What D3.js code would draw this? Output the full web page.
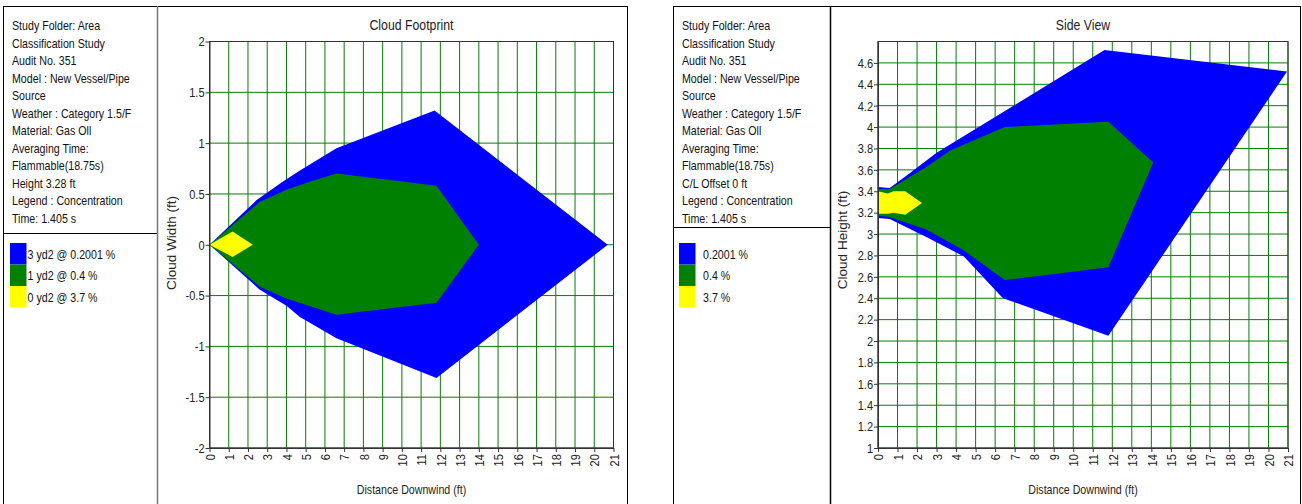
<!DOCTYPE html>
<html lang="en">
<head>
<meta charset="UTF-8">
<title>Cloud Footprint / Side View</title>
<script src="https://cdn.jsdelivr.net/npm/d3@7"></script>
<style>
  body { margin: 0; background: #fff; }
  svg { display: block; font-family: "Liberation Sans", Arial, sans-serif; }
</style>
</head>
<body>
<svg width="1302" height="504"></svg>
<script>
// ---- data ----
const infoFootprint = [
  'Study Folder: Area', 'Classification Study', 'Audit No. 351', 'Model : New Vessel/Pipe',
  'Source', 'Weather : Category 1.5/F', 'Material: Gas Oll', 'Averaging Time:',
  'Flammable(18.75s)', 'Height 3.28 ft', 'Legend : Concentration', 'Time: 1.405 s'
];
const infoSide = [
  'Study Folder: Area', 'Classification Study', 'Audit No. 351', 'Model : New Vessel/Pipe',
  'Source', 'Weather : Category 1.5/F', 'Material: Gas Oll', 'Averaging Time:',
  'Flammable(18.75s)', 'C/L Offset 0 ft', 'Legend : Concentration', 'Time: 1.405 s'
];
const legendFootprint = ['3 yd2 @ 0.2001 %', '1 yd2 @ 0.4 %', '0 yd2 @ 3.7 %'];
const legendSide = ['0.2001 %', '0.4 %', '3.7 %'];
const levelColors = ['#0000ff', '#008000', '#ffff00'];

const distanceTicks = [0, 1, 2, 3, 4, 5, 6, 7, 8, 9, 10, 11, 12, 13, 14, 15, 16, 17, 18, 19, 20, 21];
const widthTicks = [-2, -1.5, -1, -0.5, 0, 0.5, 1, 1.5, 2];
const heightTicks = [1, 1.2, 1.4, 1.6, 1.8, 2, 2.2, 2.4, 2.6, 2.8, 3, 3.2, 3.4, 3.6, 3.8, 4, 4.2, 4.4, 4.6];

// cloud footprint contours: [distance, width]
const footprintBlue = [
  [0, 0], [2.45, 0.44], [3.8, 0.62], [4.7, 0.73], [6.6, 0.95], [11.7, 1.32], [20.7, 0],
  [11.8, -1.31], [6.6, -0.92], [4.7, -0.71], [4.0, -0.60], [2.6, -0.44]
];
const footprintGreen = [
  [0, 0], [2.6, 0.42], [4.0, 0.54], [5.2, 0.62], [6.6, 0.70], [11.8, 0.58], [14.0, 0],
  [11.8, -0.57], [6.6, -0.69], [4.0, -0.53], [2.6, -0.41]
];
const footprintYellow = [[0, 0], [1.2, 0.13], [2.25, 0], [1.2, -0.12]];

// side view contours: [distance, height]
const sideBlue = [
  [0, 3.44], [0.6, 3.43], [1.64, 3.57], [3.0, 3.76], [11.6, 4.72], [20.95, 4.52],
  [11.8, 2.05], [6.4, 2.40], [4.4, 2.79], [2.5, 2.97], [0.6, 3.14], [0, 3.15]
];
const sideGreen = [
  [0, 3.42], [0.6, 3.42], [2.5, 3.63], [3.7, 3.78], [6.5, 4.0], [11.8, 4.05], [14.1, 3.67],
  [11.8, 2.69], [6.5, 2.57], [4.37, 2.85], [2.5, 3.04], [0.6, 3.16], [0, 3.17]
];
const sideYellow = [
  [0, 3.40], [0.5, 3.38], [0.8, 3.40], [1.4, 3.40], [2.25, 3.29],
  [1.4, 3.18], [0.8, 3.20], [0.5, 3.19], [0, 3.19]
];

// ---- drawing ----
const svg = d3.select('svg');
const narrow = 'scale(0.82,1)'; // no narrow font installed, squeeze Arial-like text

function drawPanel(p) {
  const g = svg.append('g');

  // frames
  g.append('rect')
    .attr('x', p.left + 0.5).attr('y', 6.5)
    .attr('width', p.right - p.left).attr('height', 520)
    .attr('fill', 'none').attr('stroke', '#000');
  g.append('line')
    .attr('x1', p.split + 0.5).attr('x2', p.split + 0.5).attr('y1', 6).attr('y2', 504)
    .attr('stroke', p.splitColor).attr('stroke-width', 1.5);
  g.append('line')
    .attr('x1', p.left).attr('x2', p.split).attr('y1', p.legendTop + 0.5).attr('y2', p.legendTop + 0.5)
    .attr('stroke', '#000');

  // info text
  g.append('g')
    .attr('font-size', 13).attr('fill', '#111')
    .selectAll('text').data(p.info).join('text')
    .attr('transform', (d, i) => `translate(${p.left + 9},${30 + i * 17.5}) ${narrow}`)
    .text(d => d);

  // legend
  const lg = g.append('g').selectAll('g').data(p.legend).join('g')
    .attr('transform', (d, i) => `translate(${p.left + p.swatchX}, ${p.legendTop + p.legendPad + i * 21.5})`);
  lg.append('rect')
    .attr('width', 16.5).attr('height', 21.5)
    .attr('fill', (d, i) => levelColors[i]);
  lg.append('text')
    .attr('transform', `translate(${p.textX},15.5) ${narrow}`)
    .attr('font-size', 13).attr('fill', '#111')
    .text(d => d);

  // scales
  const x = d3.scaleLinear().domain([0, 21]).range([p.x0, p.x1]);
  const y = d3.scaleLinear().domain(p.yDomain).range([448, 41.5]);

  // grid
  const grid = g.append('g').attr('stroke', '#008000').attr('stroke-width', 1);
  grid.selectAll('.v').data(distanceTicks).join('line')
    .attr('x1', d => x(d)).attr('x2', d => x(d)).attr('y1', y.range()[0]).attr('y2', y.range()[1]);
  grid.selectAll('.h').data(p.yTicks).join('line')
    .attr('x1', x(0)).attr('x2', x(21)).attr('y1', d => y(d)).attr('y2', d => y(d));

  // contours
  const line = d3.line().x(d => x(d[0])).y(d => y(d[1]));
  g.append('g').selectAll('path').data(p.shapes).join('path')
    .attr('d', d => line(d) + 'Z')
    .attr('fill', (d, i) => levelColors[i]);

  // plot frame
  g.append('rect')
    .attr('x', x(0)).attr('y', y.range()[1])
    .attr('width', x(21) - x(0)).attr('height', y.range()[0] - y.range()[1])
    .attr('fill', 'none').attr('stroke', '#333');

  // axes
  g.append('g')
    .attr('transform', `translate(${x(0)},0)`)
    .call(d3.axisLeft(y).tickValues(p.yTicks).tickFormat(d => String(d)).tickSize(4).tickSizeOuter(0))
    .call(a => a.selectAll('line, path').attr('stroke', '#333'))
    .call(a => a.selectAll('text')
      .attr('font-size', 13.5).attr('fill', '#222').attr('font-family', null)
      .attr('x', -6).attr('transform', narrow));

  g.append('g')
    .attr('transform', `translate(0,${y.range()[0]})`)
    .call(d3.axisBottom(x).tickValues(distanceTicks).tickFormat(d => String(d)).tickSize(4).tickSizeOuter(0))
    .call(a => a.selectAll('line, path').attr('stroke', '#333'))
    .call(a => a.selectAll('text')
      .attr('font-size', 13.5).attr('fill', '#222').attr('font-family', null)
      .attr('transform', `rotate(-90) ${narrow}`)
      .attr('text-anchor', 'end')
      .attr('x', -7.5).attr('y', 0).attr('dy', '0.35em'));

  // titles
  g.append('text')
    .attr('transform', `translate(${(p.x0 + p.x1) / 2},30) ${narrow}`)
    .attr('text-anchor', 'middle').attr('font-size', 15).attr('fill', '#222')
    .text(p.title);
  g.append('text')
    .attr('transform', `translate(${(p.x0 + p.x1) / 2},494) ${narrow}`)
    .attr('text-anchor', 'middle').attr('font-size', 13).attr('fill', '#222')
    .text('Distance Downwind (ft)');
  g.append('text')
    .attr('transform', `translate(${p.yTitleX},${p.yTitleY}) rotate(-90)`)
    .attr('text-anchor', 'middle').attr('font-size', 13.5).attr('fill', '#222')
    .text(p.yTitle);
}

drawPanel({
  left: 3, right: 627, split: 157, splitColor: '#777', legendTop: 233, legendPad: 10,
  swatchX: 7, textX: 17.5,
  info: infoFootprint, legend: legendFootprint,
  x0: 209.5, x1: 613.5, yDomain: [-2, 2], yTicks: widthTicks,
  shapes: [footprintBlue, footprintGreen, footprintYellow],
  title: 'Cloud Footprint', yTitle: 'Cloud Width (ft)', yTitleX: 176, yTitleY: 243
});

drawPanel({
  left: 673, right: 1300, split: 830, splitColor: '#000', legendTop: 227, legendPad: 16,
  swatchX: 6, textX: 24,
  info: infoSide, legend: legendSide,
  x0: 878, x1: 1288, yDomain: [1, 4.8], yTicks: heightTicks,
  shapes: [sideBlue, sideGreen, sideYellow],
  title: 'Side View', yTitle: 'Cloud Height (ft)', yTitleX: 847, yTitleY: 240
});
</script>
</body>
</html>
